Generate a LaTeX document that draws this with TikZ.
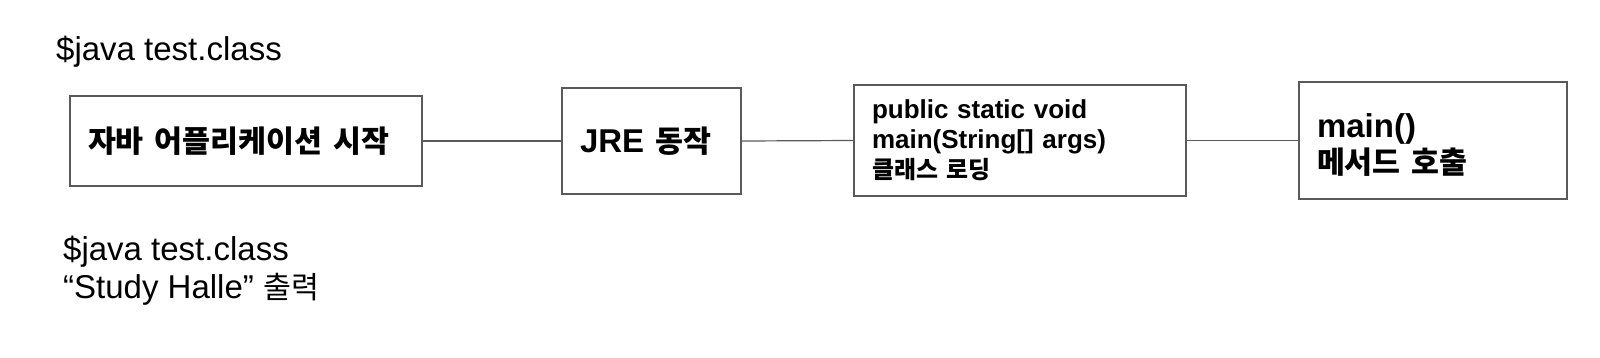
\documentclass[tikz,border=0pt]{standalone}
\usepackage{fontspec}
\setmainfont{Liberation Sans}
\newfontfamily\kr[Scale=0.92]{Noto Sans CJK KR}
\definecolor{edge}{RGB}{90,90,90}
\begin{document}
\begin{tikzpicture}[x=1pt,y=-1pt,
  box/.style={draw=edge,line width=1.3pt,rectangle,align=left,inner xsep=18pt,inner ysep=0pt},
  conn/.style={draw=edge,line width=1.2pt},
  plain/.style={inner sep=0pt,align=left,font=\fontsize{33}{38}\selectfont}]
\useasboundingbox[fill=white] (0,0) rectangle (1600,357);
\node[plain,anchor=base west] (cmd) at (56,60) {\$java test.class};
\node[box,text width=316pt,minimum height=90pt,font=\fontsize{33}{38}\selectfont\bfseries] (b1) at (246,141) {{\kr 자바 어플리케이션 시작}};
\node[box,text width=143pt,minimum height=106pt,font=\fontsize{33}{38}\selectfont\bfseries] (b2) at (651.5,141) {JRE {\kr 동작}};
\node[box,text width=296pt,minimum height=111pt,font=\fontsize{26}{30}\selectfont\bfseries] (b3) at (1020,140.5) {public static void\\main(String[] args)\\{\kr 클래스 로딩}};
\node[box,text width=232pt,minimum height=117pt,font=\fontsize{33}{36}\selectfont\bfseries] (b4) at (1433,140.5) {\rule{0pt}{33pt}main()\\{\kr 메서드 호출}};
\node[plain,anchor=base west] (out1) at (63,260) {\$java test.class};
\node[plain,anchor=base west] (out2) at (63,298) {“Study Halle” {\kr 출력}};
\draw[conn] (b1.east) -- (b2.west);
\draw[conn] (b2.east) -- (b3.west);
\draw[conn] (b3.east) -- (b4.west);
\end{tikzpicture}
\end{document}
